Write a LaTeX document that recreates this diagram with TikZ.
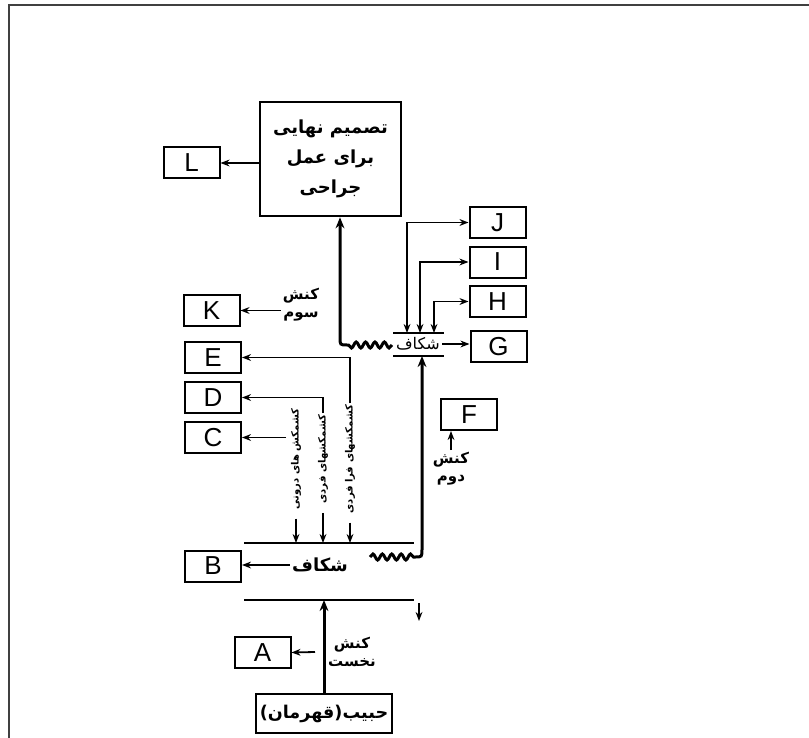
\documentclass[tikz,border=0pt]{standalone}
\usepackage{fontspec}
\setmainfont{Liberation Sans}
\newfontfamily\arabicfont[Script=Arabic]{DejaVu Sans}
\TeXXeTstate=1
\usetikzlibrary{arrows.meta,decorations.pathmorphing}
\newcommand{\fa}[1]{\beginR #1\endR}
\tikzset{
  letbox/.style={draw,line width=1pt,minimum width=28pt,minimum height=15.5pt,inner sep=0pt,font=\fontsize{13}{13}\selectfont},
  decbox/.style={draw,line width=1.3pt,minimum width=70.5pt,minimum height=57pt,inner sep=1pt,align=center,font=\arabicfont\bfseries\fontsize{9}{15}\selectfont},
  herobox/.style={draw,line width=1.2pt,minimum width=68pt,minimum height=19.5pt,inner sep=1pt,font=\arabicfont\bfseries\fontsize{8.8}{10}\selectfont},
  falabel/.style={font=\arabicfont\bfseries\fontsize{7.5}{9}\selectfont,align=center,inner sep=1pt},
  gaplabel/.style={font=\arabicfont\bfseries\fontsize{9}{10}\selectfont,inner sep=1pt},
  vlabel/.style={font=\arabicfont\bfseries\fontsize{5}{6}\selectfont,rotate=90,inner sep=0.5pt},
  arr/.style={-{Stealth[length=4.5pt,width=3.4pt]},line width=0.9pt},
  biarr/.style={{Stealth[length=4.5pt,width=3.4pt]}-{Stealth[length=4.5pt,width=3.4pt]},line width=0.9pt},
  mainarr/.style={-{Stealth[length=5.5pt,width=4.4pt]},line width=1.5pt},
  gapline/.style={line width=1pt},
  coil/.style={decoration={snake,amplitude=1.5pt,segment length=4.7pt}},
}
\begin{document}
\begin{tikzpicture}[x=0.5pt,y=-0.5pt]
  \useasboundingbox (0,0) rectangle (809,738);
  \draw[black!75,line width=0.6pt] (9,738) -- (9,5) -- (809,5);
  % boxes
  \node[decbox] (dec) at (330.5,159) {\fa{تصمیم نهایی}\\\fa{برای عمل}\\\fa{جراحی}};
  \node[herobox] (hero) at (324,713.5) {\fa{حبیب(قهرمان)}};
  \node[letbox] (L) at (191.5,163) {L};
  \node[letbox] (K) at (211.5,310.5) {K};
  \node[letbox] (E) at (213,357.5) {E};
  \node[letbox] (D) at (213,397.5) {D};
  \node[letbox] (C) at (213,437.5) {C};
  \node[letbox] (B) at (213,566) {B};
  \node[letbox] (A) at (262.5,652.5) {A};
  \node[letbox] (F) at (469,414.5) {F};
  \node[letbox] (J) at (497.5,222.5) {J};
  \node[letbox] (I) at (497.5,262) {I};
  \node[letbox] (H) at (497.5,301.5) {H};
  \node[letbox] (G) at (498.5,346.5) {G};
  % labels
  \node[falabel] (k1) at (352,652) {\fa{کنش}\\\fa{نخست}};
  \node[falabel] (k2) at (451,469) {\fa{کنش}\\\fa{دوم}};
  \node[falabel] (k3) at (301,305) {\fa{کنش}\\\fa{سوم}};
  \node[gaplabel] (gap1) at (320,565) {\fa{شکاف}};
  \node[falabel,font=\arabicfont\fontsize{8}{9}\selectfont] (gap2) at (418,344) {\fa{شکاف}};
  \node[vlabel] (v1) at (296,459) {\fa{کشمکش های درونی}};
  \node[vlabel] (v2) at (323,459) {\fa{کشمکشهای فردی}};
  \node[vlabel] (v3) at (350,459) {\fa{کشمکشهای فرا فردی}};
  % gap lines
  \coordinate (g1tl) at (244,543);
  \coordinate (g1tr) at (414,543);
  \coordinate (g1bl) at (244,600);
  \coordinate (g1br) at (414,600);
  \coordinate (g2tl) at (393,333);
  \coordinate (g2tr) at (444,333);
  \coordinate (g2bl) at (393,356);
  \coordinate (g2br) at (444,356);
  \draw[gapline] (g1tl) -- (g1tr);
  \draw[gapline] (g1bl) -- (g1br);
  \draw[gapline] (g2tl) -- (g2tr);
  \draw[gapline] (g2bl) -- (g2br);
  % connectors
  \draw[mainarr] (hero.north) -- (hero.north |- g1bl);
  \coordinate (a0) at (315,652);
  \draw[arr] (a0) -- (A.east);
  \draw[arr] (gap1.west) -- (gap1.west -| B.east);
  \coordinate (dn0) at (419,603);
  \coordinate (dn1) at (419,621);
  \draw[arr] (dn0) -- (dn1);
  \draw[arr,shorten <=4pt] (v1.west) -- (v1.west |- g1tl);
  \draw[arr,shorten <=4pt] (v2.west) -- (v2.west |- g1tl);
  \draw[arr,shorten <=4pt] (v3.west) -- (v3.west |- g1tl);
  \draw[arr] (v3.east) |- (E.east);
  \draw[arr] (v2.east) |- (D.east);
  \coordinate (c0) at (286,437.5);
  \draw[arr] (c0) -- (C.east);
  % second wave
  \coordinate (w1a) at (370,557);
  \coordinate (w1b) at (415,557);
  \coordinate (w1c) at (422,549);
  \draw[mainarr] (w1a) decorate[coil]{-- (w1b)} .. controls (422,557) .. (w1c) -- (w1c |- g2bl);
  \draw[arr] (k2.north) -- (k2.north |- F.south);
  \draw[arr] (gap2.east) -- (gap2.east -| G.west);
  \coordinate (jx) at (407,333);
  \coordinate (ix) at (420,333);
  \coordinate (hx) at (434,333);
  \draw[biarr] (J.west) -| (jx);
  \draw[biarr] (I.west) -| (ix);
  \draw[biarr] (H.west) -| (hx);
  % third wave
  \coordinate (w2a) at (392,345);
  \coordinate (w2b) at (347,345);
  \coordinate (w2c) at (340,337);
  \draw[mainarr] (w2a) decorate[coil]{-- (w2b)} .. controls (340,345) .. (w2c) -- (w2c |- dec.south);
  \draw[arr] (k3.west |- K.east) -- (K.east);
  \draw[arr] (dec.west |- L.east) -- (L.east);
\end{tikzpicture}
\end{document}
